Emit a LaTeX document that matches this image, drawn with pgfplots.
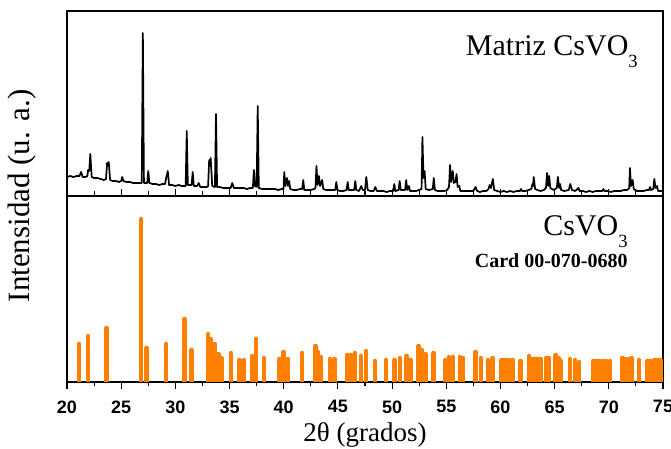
\documentclass[border=0pt]{standalone}
\usepackage{fontspec}
\setmainfont{Liberation Serif}
\setsansfont{Liberation Sans}
\usepackage{pgfplots}
\pgfplotsset{compat=1.18}
\usetikzlibrary{calc}
\definecolor{stick}{RGB}{255,128,0}
\newcommand\sub[1]{\raisebox{-0.42em}{\scalebox{0.62}{#1}}}

\begin{document}
\begin{tikzpicture}
\pgfplotsset{
  xrd/.style={
    scale only axis, width=596pt, xmin=20, xmax=75,
    xtick={20,25,...,75}, minor x tick num=1,
    ytick=\empty,
    axis line style={line width=1.1pt},
    major tick length=7pt, minor tick length=4.5pt,
    every tick/.style={black, line width=1.1pt},
    ticklabel style={font=\sffamily\bfseries\fontsize{18}{18}\selectfont},
    /pgf/number format/assume math mode=true,
    xtick pos=bottom,
  }
}
% reference pattern (sticks)
\begin{axis}[xrd, name=bot, at={(0,0)}, anchor=south west,
  height=186pt, ymin=0, ymax=186, tick align=outside,
  xticklabel style={yshift=-8pt},
  xlabel={2θ (grados)},
  xlabel style={font=\fontsize{27}{27}\selectfont, yshift=-2pt}]
\addplot[ycomb, stick, line width=4.5pt, line cap=round] coordinates {
(21.1,38) (21.95,46) (23.65,54) (26.83,163) (27.35,34) (29.13,38)
(30.85,63) (31.5,32) (33.03,48) (33.25,43) (33.62,38) (33.96,28)
(34.27,24) (35.13,29) (35.9,22) (36.33,22) (37.1,26) (37.44,43)
(38.17,24) (39.6,23) (39.98,30) (40.38,23) (41.7,29) (42.92,36)
(43.15,30) (43.43,25) (44.26,23) (44.7,23) (45.88,27) (46.22,27)
(46.57,29) (47.12,26) (47.57,31) (48.41,21) (49.45,22) (50.23,22)
(50.72,24) (51.33,26) (51.7,22) (52.44,36) (52.78,32) (53.06,28)
(53.83,29) (54.93,22) (55.24,25) (55.5,24) (55.64,25) (56.25,25)
(56.56,24) (57.7,30) (58.2,24) (58.85,22) (59.27,24) (60.1,22)
(60.35,22) (60.6,22) (60.85,22) (61.15,22) (61.85,21) (62.62,26)
(62.9,23) (63.15,23) (63.4,23) (63.7,23) (64.25,24) (64.5,24)
(65.1,27) (65.36,24) (65.6,21) (66.4,23) (66.86,22) (67.26,20)
(68.56,21) (68.85,21) (69.15,21) (69.45,21) (69.75,21) (70.1,21)
(71.26,24) (71.55,23) (71.85,23) (72.1,24) (72.8,22) (73.55,21)
(73.85,21) (74.2,22) (74.5,22) (74.75,22)
};
\node[anchor=base east, inner sep=0pt, font=\fontsize{30}{30}\selectfont]
  at (rel axis cs:0.941,0.79) {CsVO\sub{3}};
\node[anchor=base east, inner sep=0pt, font=\bfseries\fontsize{20}{20}\selectfont]
  at (rel axis cs:0.941,0.613) {Card 00-070-0680};
\end{axis}
% measured pattern
\begin{axis}[xrd, name=top, at={(0,186pt)}, anchor=south west,
  height=185pt, ymin=0, ymax=185, tick align=inside, xticklabel=\empty]
\addplot[black, line width=1.7pt, line join=round] coordinates {
(20.0,19) (20.3,20) (20.6,19) (20.9,20) (21.15,20) (21.3,24) (21.45,19)
(21.7,19) (21.88,20) (21.95,26) (22.05,25) (22.15,42) (22.28,19) (22.5,18)
(22.8,18) (23.1,17) (23.4,16) (23.6,17) (23.7,33) (23.78,30) (23.85,34)
(23.98,16) (24.2,15) (24.5,15) (24.8,14) (25.0,15) (25.1,19) (25.2,15)
(25.5,14) (25.8,14) (26.1,13) (26.4,13) (26.7,13) (26.9,13) (27.0,163)
(27.1,13) (27.4,13) (27.5,25) (27.6,13) (27.9,12) (28.2,12) (28.5,11)
(28.8,12) (29.05,12) (29.15,18) (29.3,25) (29.42,11) (29.7,11) (30.0,10)
(30.3,11) (30.6,10) (30.95,10) (31.05,65) (31.15,11) (31.5,11) (31.6,24)
(31.7,10) (32.0,10) (32.15,13) (32.3,9) (32.6,9) (32.9,9) (33.02,10)
(33.12,36) (33.19,30) (33.26,38) (33.4,10) (33.65,9) (33.75,82) (33.85,9)
(34.1,9) (34.4,8) (34.7,8) (35.1,8) (35.25,13) (35.4,8) (35.7,8)
(36.0,8) (36.3,8) (36.6,7) (36.9,8) (37.15,8) (37.25,26) (37.35,10)
(37.5,9) (37.6,90) (37.7,8) (38.0,7) (38.3,7) (38.6,7) (38.9,7)
(39.2,7) (39.5,6) (39.8,7) (39.98,7) (40.05,24) (40.15,10) (40.3,18)
(40.4,10) (40.5,15) (40.6,7) (40.9,6) (41.2,6) (41.5,7) (41.7,7)
(41.8,16) (41.9,6) (42.2,6) (42.5,6) (42.8,7) (42.93,8) (43.02,30)
(43.12,11) (43.25,20) (43.35,10) (43.55,16) (43.65,7) (43.9,6) (44.2,6)
(44.5,6) (44.75,6) (44.85,14) (44.95,6) (45.2,5) (45.5,5) (45.8,6)
(45.9,14) (46.0,6) (46.3,6) (46.5,6) (46.6,15) (46.7,6) (46.95,5)
(47.15,10) (47.3,6) (47.5,6) (47.62,19) (47.75,6) (48.0,5) (48.3,5)
(48.45,9) (48.6,5) (48.9,5) (49.2,5) (49.5,4) (49.8,5) (50.1,5)
(50.2,12) (50.3,5) (50.6,6) (50.7,15) (50.8,6) (51.2,6) (51.3,16)
(51.4,6) (51.55,10) (51.65,5) (51.9,5) (52.2,5) (52.5,6) (52.72,7)
(52.8,59) (52.9,18) (53.0,25) (53.1,7) (53.4,6) (53.75,7) (53.85,18)
(53.95,6) (54.2,5) (54.5,5) (54.8,5) (55.1,6) (55.25,9) (55.35,31)
(55.45,14) (55.6,25) (55.7,13) (55.85,14) (55.95,22) (56.05,9) (56.2,10)
(56.3,5) (56.6,5) (56.9,5) (57.2,5) (57.5,5) (57.7,9) (57.85,5)
(58.1,4) (58.4,5) (58.7,5) (58.9,7) (59.0,11) (59.12,8) (59.3,17)
(59.42,6) (59.7,5) (60.0,4) (60.3,5) (60.6,4) (60.9,5) (61.2,4)
(61.5,5) (61.8,5) (61.9,7) (62.0,5) (62.3,5) (62.6,6) (62.85,7)
(62.95,12) (63.0,10) (63.07,19) (63.2,7) (63.4,6) (63.7,5) (64.0,6)
(64.2,8) (64.3,23) (64.4,10) (64.5,20) (64.6,8) (64.9,6) (65.2,8)
(65.3,19) (65.42,8) (65.5,12) (65.6,6) (65.9,5) (66.3,6) (66.45,12)
(66.6,6) (66.9,5) (67.2,8) (67.3,5) (67.6,5) (67.9,4) (68.2,5)
(68.5,4) (68.8,5) (69.1,5) (69.4,5) (69.5,7) (69.6,5) (69.9,5)
(70.2,4) (70.5,5) (70.8,5) (71.1,5) (71.4,6) (71.7,6) (71.88,8)
(71.95,28) (72.05,10) (72.2,16) (72.3,7) (72.6,5) (72.9,5) (73.2,5)
(73.5,6) (73.7,6) (73.8,9) (73.9,6) (74.1,7) (74.2,17) (74.3,8)
(74.45,10) (74.55,5) (74.8,5) (75.0,5)
};
\node[anchor=base east, inner sep=0pt, font=\fontsize{30}{30}\selectfont]
  at (rel axis cs:0.958,0.762) {Matriz CsVO\sub{3}};
\end{axis}
\node[rotate=90, font=\fontsize{31}{31}\selectfont]
  at ($(bot.north west)+(-45pt,0)$) {Intensidad (u. a.)};
\pgfresetboundingbox
\path ($(bot.south west)+(-67pt,-67pt)$) rectangle ($(top.north east)+(8pt,11pt)$);
\end{tikzpicture}
\end{document}
